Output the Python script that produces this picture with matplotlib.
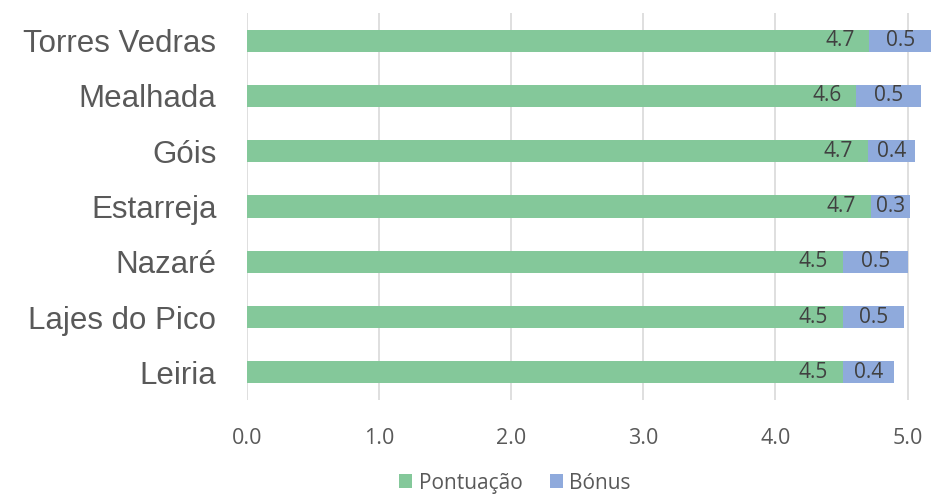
import matplotlib.pyplot as plt
import numpy as np

# dados
cidades = ['Torres Vedras', 'Mealhada', 'Góis', 'Estarreja', 'Nazaré', 'Lajes do Pico', 'Leiria']
pontuacao = [4.71, 4.61, 4.70, 4.72, 4.51, 4.51, 4.51]
bonus = [0.47, 0.49, 0.36, 0.30, 0.49, 0.46, 0.39]
ticks_x = [0.0, 1.0, 2.0, 3.0, 4.0, 5.0]

cor_verde = '#84C89A'
cor_azul = '#8FAADC'

fig = plt.figure(figsize=(9.31, 4.95), dpi=100)
ax = fig.add_axes([247 / 931, 95 / 495, 684 / 931, 387 / 495])

y = np.arange(len(cidades))
b1 = ax.barh(y, pontuacao, height=0.4, color=cor_verde, label='Pontuação', zorder=2)
b2 = ax.barh(y, bonus, left=pontuacao, height=0.4, color=cor_azul, label='Bónus', zorder=2)

# rótulos dos valores
for i in range(len(cidades)):
    ax.text(pontuacao[i] - 0.11, y[i], f'{pontuacao[i]:.1f}', ha='right', va='center',
            fontsize=15, color='#404040', family='Open Sans', zorder=3)
    ax.text(pontuacao[i] + bonus[i] / 2, y[i], f'{bonus[i]:.1f}', ha='center', va='center',
            fontsize=15, color='#404040', family='Open Sans', zorder=3)

ax.set_xlim(0, 684 / 132.1)
ax.set_ylim(len(cidades) - 0.5, -0.5)
ax.set_xticks(ticks_x)
ax.set_xticklabels([f'{t:.1f}' for t in ticks_x], fontsize=15.5, color='#595959', family='Open Sans')
ax.set_yticks(y)
ax.set_yticklabels(cidades, fontsize=22.5, color='#595959', family='Liberation Sans')
ax.tick_params(axis='both', length=0)
ax.tick_params(axis='x', pad=20)
ax.tick_params(axis='y', pad=22)

ax.grid(axis='x', color='#D9D9D9', linewidth=1.2, zorder=0)
for s in ax.spines.values():
    s.set_visible(False)

fig.legend(handles=[b1, b2], loc='center', bbox_to_anchor=(0.553, 0.024), ncol=2, frameon=False,
           prop={'family': 'Open Sans', 'size': 15}, labelcolor='#595959',
           handlelength=0.65, handleheight=0.65, handletextpad=0.3, columnspacing=1.3)

fig.savefig('out.png', dpi=100)
